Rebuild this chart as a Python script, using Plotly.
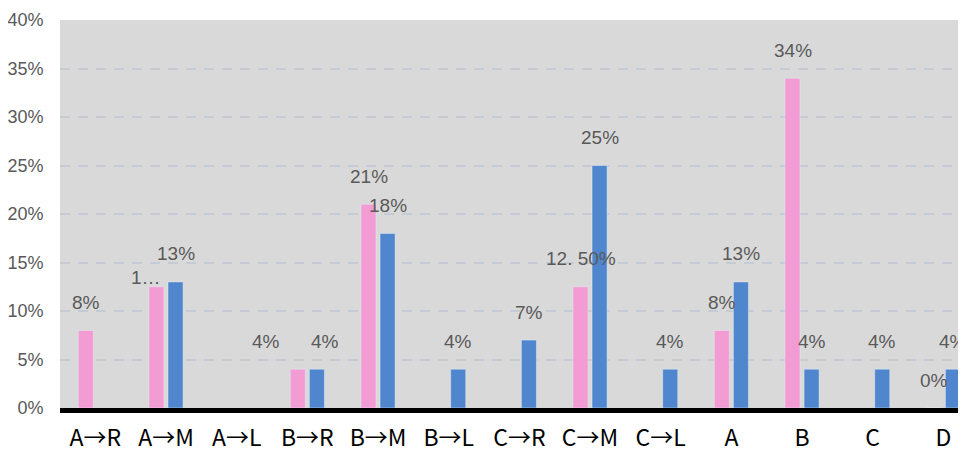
import plotly.graph_objects as go

categories = ["A→R", "A→M", "A→L", "B→R", "B→M", "B→L", "C→R", "C→M", "C→L", "A", "B", "C", "D"]
pink_values = [8, 12.5, None, 4, 21, None, None, 12.5, None, 8, 34, None, 0]
blue_values = [None, 13, None, 4, 18, 4, 7, 25, 4, 13, 4, 4, 4]
pink_labels = ["8%", "1…", "", "4%", "21%", "", "", "12. 50%", "", "8%", "34%", "", "0%"]
blue_labels = ["", "13%", "", "4%", "18%", "4%", "7%", "25%", "4%", "13%", "4%", "4%", "4%"]
y_ticks = [0, 5, 10, 15, 20, 25, 30, 35, 40]

PINK = "#F39BD3"
BLUE = "#4F86CD"
LABEL_COLOR = "#595959"

fig = go.Figure()
fig.add_trace(go.Bar(x=categories, y=pink_values, marker_color=PINK, name="pink"))
fig.add_trace(go.Bar(x=categories, y=blue_values, marker_color=BLUE, name="blue"))

# label placement tweaks (pixel shifts relative to default)
pink_adj = {1: (-11, 19), 3: (-32, 0)}
blue_adj = {3: (8, 0)}

annotations = []
for series, vals, labels, base_dx, adj in [
    ("p", pink_values, pink_labels, -9.5, pink_adj),
    ("b", blue_values, blue_labels, 9.5, blue_adj),
]:
    for i, (v, t) in enumerate(zip(vals, labels)):
        if v is None or not t:
            continue
        dx, dy = adj.get(i, (0, 0))
        annotations.append(dict(
            x=i, y=v, xref="x", yref="y", text=t, showarrow=False,
            xshift=base_dx + dx, yshift=28 - dy, yanchor="middle", xanchor="center",
            font=dict(family="Liberation Sans, Arial", size=19, color=LABEL_COLOR),
        ))

# page body has an 8px margin, so the figure is sized to fit the 966x455 window
fig.update_layout(
    width=958, height=447,
    margin=dict(l=52, r=0, t=12, b=47, autoexpand=False),
    paper_bgcolor="white",
    plot_bgcolor="#D9D9D9",
    showlegend=False,
    barmode="group",
    bargap=0.46,
    bargroupgap=0.21,
    annotations=annotations,
)
fig.update_xaxes(
    type="category",
    range=[-0.5, 12.32],
    automargin=False,
    showgrid=False,
    showline=True, linecolor="black", linewidth=5,
    ticks="outside", ticklen=5, tickcolor="rgba(0,0,0,0)",
    tickfont=dict(family="Noto Sans CJK SC", size=23, color="black"),
    zeroline=False,
)
fig.update_yaxes(
    range=[0, 40],
    automargin=False,
    tickvals=y_ticks,
    ticktext=[f"{v}%" for v in y_ticks],
    showgrid=True, gridcolor="#C5CBD4", gridwidth=2, griddash="10px,8px",
    zeroline=False,
    ticks="outside", ticklen=12, tickcolor="rgba(0,0,0,0)",
    tickfont=dict(family="Liberation Sans, Arial", size=18, color=LABEL_COLOR),
)

fig.write_html("out.html")
